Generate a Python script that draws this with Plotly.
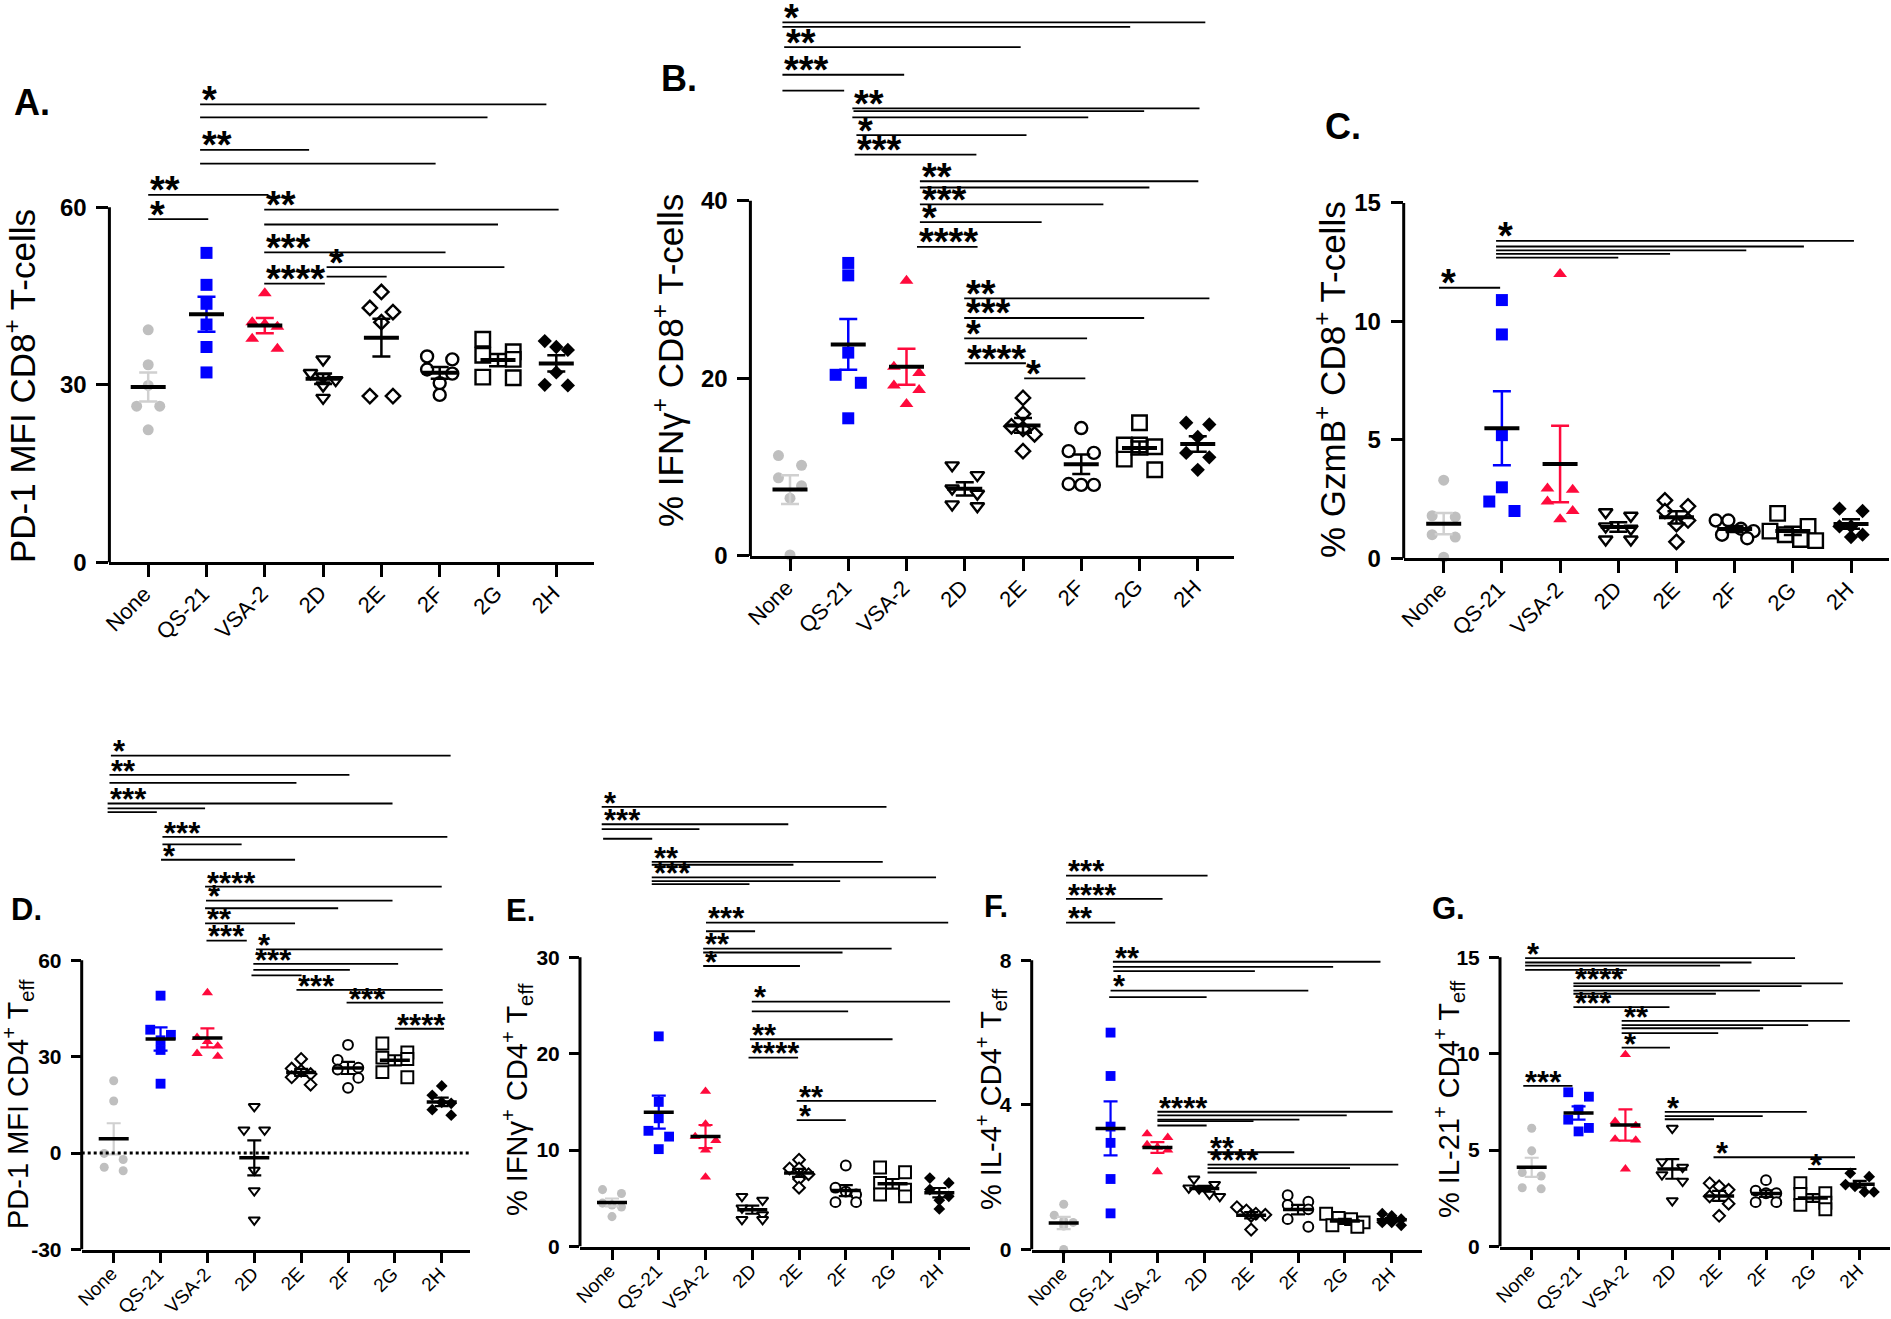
import numpy as np
import plotly.graph_objects as go

W, H = 1891, 1319
FONT = "Liberation Sans, Arial, sans-serif"

groups = ["None", "QS-21", "VSA-2", "2D", "2E", "2F", "2G", "2H"]

# ---------------- values (6 animals per group) ----------------
A_vals = [[39.3, 33.4, 29.9, 26.4, 26.4, 22.4],
          [52.3, 46.9, 43.7, 40.2, 36.4, 32.1],
          [45.5, 40.6, 40.3, 39.8, 37.8, 36.1],
          [34.3, 32.0, 31.3, 30.8, 29.9, 27.8],
          [45.7, 43.0, 42.3, 40.6, 28.1, 28.1],
          [34.8, 34.3, 32.6, 31.9, 30.3, 28.3],
          [37.7, 35.6, 35.0, 34.3, 31.3, 31.2],
          [37.4, 36.4, 35.9, 32.1, 30.0, 29.9]]
B_vals = [[11.3, 10.2, 8.8, 7.9, 6.5, 0.1],
          [33.0, 31.6, 22.9, 20.4, 19.5, 15.5],
          [31.0, 21.3, 20.6, 19.2, 18.7, 17.1],
          [10.2, 9.1, 7.6, 7.0, 5.8, 5.6],
          [17.8, 16.0, 14.6, 14.3, 13.7, 11.8],
          [14.4, 11.8, 11.6, 8.1, 8.0, 8.0],
          [15.0, 12.5, 12.5, 12.3, 10.9, 9.7],
          [15.0, 14.8, 13.4, 11.6, 11.1, 9.7]]
C_vals = [[3.3, 1.8, 1.75, 1.0, 0.9, 0.05],
          [10.9, 9.45, 5.2, 3.0, 2.4, 2.0],
          [12.0, 2.95, 2.9, 2.4, 2.0, 1.65],
          [1.95, 1.8, 1.35, 1.25, 0.8, 0.8],
          [2.45, 2.2, 2.0, 1.6, 1.45, 0.7],
          [1.6, 1.6, 1.25, 1.15, 1.0, 0.85],
          [1.9, 1.35, 1.15, 1.0, 0.8, 0.75],
          [2.1, 2.0, 1.35, 1.35, 1.0, 0.9]]
D_vals = [[22.5, 16.2, -0.1, -2.0, -4.4, -5.5],
          [49.0, 38.4, 36.8, 35.1, 32.1, 21.6],
          [49.9, 36.0, 34.7, 33.3, 31.0, 30.1],
          [14.5, 7.2, 7.2, -5.3, -11.7, -20.8],
          [29.3, 26.3, 25.6, 24.6, 23.6, 21.3],
          [33.7, 29.0, 26.6, 26.0, 23.4, 20.3],
          [34.1, 31.3, 29.7, 29.3, 25.2, 23.6],
          [20.9, 18.0, 15.8, 15.5, 13.5, 11.8]]
E_vals = [[5.9, 5.5, 4.5, 4.3, 4.1, 3.1],
          [21.8, 15.0, 13.3, 12.0, 11.4, 10.1],
          [16.1, 12.7, 11.4, 11.0, 10.0, 7.2],
          [5.2, 4.8, 4.0, 3.3, 2.8, 2.8],
          [9.0, 8.1, 8.1, 7.5, 7.0, 6.1],
          [8.4, 6.1, 5.7, 5.4, 4.6, 4.6],
          [8.2, 7.7, 6.6, 5.9, 5.4, 5.2],
          [7.1, 6.6, 5.9, 5.2, 4.8, 3.9]]
F_vals = [[1.25, 0.95, 0.8, 0.75, 0.65, 0.0],
          [6.0, 4.8, 3.4, 2.95, 1.95, 1.0],
          [3.2, 3.1, 2.9, 2.83, 2.75, 2.15],
          [1.95, 1.8, 1.7, 1.68, 1.53, 1.47],
          [1.17, 1.08, 0.99, 0.96, 0.93, 0.55],
          [1.5, 1.32, 1.23, 1.11, 0.84, 0.63],
          [0.99, 0.87, 0.84, 0.75, 0.67, 0.63],
          [0.99, 0.93, 0.84, 0.75, 0.75, 0.67]]
G_vals = [[6.13, 4.96, 3.84, 3.66, 3.05, 2.99],
          [8.0, 7.77, 7.1, 6.58, 6.15, 5.97],
          [9.95, 6.49, 6.27, 5.57, 5.52, 4.02],
          [6.13, 4.4, 4.11, 3.73, 3.39, 2.38],
          [3.28, 3.12, 2.94, 2.6, 2.22, 1.59],
          [3.44, 2.9, 2.76, 2.76, 2.3, 2.3],
          [3.28, 2.76, 2.72, 2.27, 2.16, 1.93],
          [3.8, 3.62, 3.21, 3.12, 2.83, 2.83]]

# ---------------- significance brackets: (from group, to group, level, stars) ----------------
A_sig = [(0.89, 6.83, 77.4, "*"), (0.89, 5.82, 75.2, ""), (0.89, 2.76, 69.7, "**"),
         (0.89, 4.93, 67.4, ""), (0.0, 2.06, 62.1, "**"), (0.0, 1.03, 58.0, "*"),
         (1.99, 7.04, 59.6, "**"), (1.99, 6.0, 57.1, ""), (1.99, 5.1, 52.4, "***"),
         (3.06, 6.11, 49.9, "*"), (3.06, 4.09, 48.3, ""), (1.99, 3.03, 47.1, "****")]
B_sig = [(-0.13, 7.13, 60.1, "*"), (-0.13, 5.84, 59.6, ""), (-0.10, 3.96, 57.3, "**"),
         (-0.13, 1.96, 54.2, "***"), (-0.13, 0.93, 52.4, ""),
         (1.07, 7.03, 50.4, "**"), (1.09, 6.08, 50.1, ""), (1.07, 5.12, 49.4, ""),
         (1.14, 4.06, 47.4, "*"), (1.11, 3.20, 45.2, "***"),
         (2.23, 7.01, 42.2, "**"), (2.23, 6.17, 41.5, ""), (2.23, 5.38, 39.6, "***"),
         (2.23, 4.32, 37.6, "*"), (2.18, 3.22, 34.8, "****"),
         (2.99, 7.20, 29.0, "**"), (2.99, 6.08, 26.8, "***"), (2.99, 5.10, 24.5, "*"),
         (3.00, 4.05, 21.7, "****"), (4.02, 5.07, 20.0, "*")]
C_sig = [(-0.08, 0.97, 11.42, "*"), (0.90, 7.05, 13.40, "*"), (0.90, 6.19, 13.16, ""),
         (0.90, 5.20, 13.00, ""), (0.90, 3.89, 12.85, ""), (0.90, 3.00, 12.69, "")]
D_sig = [(-0.06, 7.19, 123.7, "*"), (-0.09, 5.03, 117.7, "**"), (-0.09, 3.90, 115.2, ""),
         (-0.13, 5.95, 108.8, "***"), (-0.13, 1.95, 107.3, ""), (-0.13, 0.92, 106.1, ""),
         (1.04, 7.12, 98.4, "***"), (1.04, 2.73, 96.1, ""), (1.01, 3.87, 91.3, "*"),
         (1.95, 7.00, 82.9, "****"), (1.97, 5.95, 78.6, "*"), (1.95, 4.79, 76.2, ""),
         (1.95, 3.87, 71.5, "**"), (1.98, 2.84, 66.1, "***"),
         (3.04, 7.02, 63.4, "*"), (2.98, 6.07, 58.9, "***"), (2.98, 5.04, 57.0, ""),
         (2.94, 4.01, 55.3, ""), (3.90, 7.02, 50.8, "***"), (4.97, 7.03, 46.8, "***"),
         (6.00, 7.05, 38.7, "****")]
E_sig = [(-0.22, 5.87, 45.6, "*"), (-0.22, 3.77, 43.8, "***"), (-0.22, 1.87, 43.3, ""),
         (-0.19, 0.86, 42.3, ""), (0.85, 5.79, 39.9, "**"), (0.85, 3.88, 39.6, ""),
         (0.85, 6.93, 38.3, "***"), (0.85, 4.88, 37.9, ""), (0.85, 2.94, 37.6, ""),
         (2.01, 7.19, 33.6, "***"), (2.01, 3.06, 32.7, ""), (1.95, 5.98, 30.9, "**"),
         (1.95, 4.93, 30.5, ""), (1.95, 4.02, 29.1, "*"),
         (2.99, 7.23, 25.4, "*"), (2.99, 5.05, 24.4, ""), (2.95, 6.00, 21.5, "**"),
         (2.92, 3.98, 19.6, "****"), (3.95, 6.93, 15.1, "**"), (3.95, 5.00, 13.1, "*")]
F_sig = [(0.05, 3.07, 10.34, "***"), (0.05, 2.11, 9.70, "****"), (0.05, 1.10, 9.04, "**"),
         (1.05, 6.76, 7.96, "**"), (1.05, 5.75, 7.82, ""), (1.06, 4.08, 7.70, ""),
         (1.00, 5.22, 7.16, "*"), (0.97, 3.05, 6.98, ""),
         (2.00, 7.02, 3.81, "****"), (2.00, 6.04, 3.71, ""), (2.00, 5.03, 3.59, ""),
         (2.00, 4.05, 3.55, ""), (2.00, 3.05, 3.43, ""),
         (3.07, 4.92, 2.69, "**"), (3.07, 7.14, 2.35, "****"), (3.07, 6.11, 2.25, ""),
         (3.07, 4.12, 2.13, "")]
G_sig = [(-0.18, 0.87, 8.33, "***"), (-0.14, 5.62, 14.96, "*"), (-0.14, 4.69, 14.73, ""),
         (-0.14, 4.02, 14.57, ""), (-0.14, 2.03, 14.35, ""),
         (0.89, 6.64, 13.65, "****"), (0.89, 5.76, 13.50, ""), (0.89, 4.87, 13.27, ""),
         (0.89, 3.93, 13.11, ""), (0.89, 2.94, 12.42, "***"),
         (1.92, 6.79, 11.70, "**"), (1.92, 5.90, 11.48, ""), (1.92, 4.94, 11.32, ""),
         (1.92, 3.98, 11.07, ""), (1.92, 2.95, 10.31, "*"),
         (2.84, 5.87, 6.98, "*"), (2.84, 4.93, 6.76, ""), (2.84, 3.89, 6.60, ""),
         (3.88, 6.90, 4.63, "*"), (5.90, 6.93, 4.02, "*")]

A_ticks = [0, 30, 60]
B_ticks = [0, 20, 40]
C_ticks = [0, 5, 10, 15]
D_ticks = [-30, 0, 30, 60]
E_ticks = [0, 10, 20, 30]
F_ticks = [0, 4, 8]
G_ticks = [0, 5, 10, 15]

A_title = "PD-1 MFI CD8<sup>+</sup> T-cells"
B_title = "% IFNγ<sup>+</sup> CD8<sup>+</sup> T-cells"
C_title = "% GzmB<sup>+</sup> CD8<sup>+</sup> T-cells"
D_title = "PD-1 MFI CD4<sup>+</sup> T<sub>eff</sub>"
E_title = "% IFNγ<sup>+</sup> CD4<sup>+</sup> T<sub>eff</sub>"
F_title = "% IL-4<sup>+</sup> CD4<sup>+</sup> T<sub>eff</sub>"
G_title = "% IL-21<sup>+</sup> CD4<sup>+</sup> T<sub>eff</sub>"

# ---------------- styling / layout (pixel geometry) ----------------
symbols = ["circle", "square", "triangle-up", "triangle-down", "diamond", "circle", "square", "diamond"]
fills = ["#BFBFBF", "#0000FF", "#FF0A3C", "white", "white", "white", "white", "black"]
edges = ["#BFBFBF", "#0000FF", "#FF0A3C", "black", "black", "black", "black", "black"]
sizes = [11, 12, 12, 12, 11, 12, 14.5, 11]
bar_cols = ["#D0D0D0", "#0000FF", "#FF0A3C", "black", "black", "black", "black", "black"]

panels = [
    dict(vals=A_vals, sig=A_sig, ticks=A_ticks, title=A_title, letter="A.",
         axis=109.4, cat0=148.2, step=58.3, right=593.9, bottom=562.4, ybot=0, ppu=5.918, top=0,
         big=True, title_xy=(20, 386), letter_xy=(12, 102), dotted=False),
    dict(vals=B_vals, sig=B_sig, ticks=B_ticks, title=B_title, letter="B.",
         axis=750.4, cat0=790.0, step=58.25, right=1234, bottom=555.9, ybot=0, ppu=8.8775, top=0,
         big=True, title_xy=(668, 361), letter_xy=(659, 79), dotted=False),
    dict(vals=C_vals, sig=C_sig, ticks=C_ticks, title=C_title, letter="C.",
         axis=1403.7, cat0=1443.7, step=58.19, right=1888.6, bottom=558.4, ybot=0, ppu=23.70, top=0,
         big=True, title_xy=(1330, 380), letter_xy=(1323, 126), dotted=False),
    dict(vals=D_vals, sig=D_sig, ticks=D_ticks, title=D_title, letter="D.",
         axis=81.7, cat0=113.7, step=46.86, right=470, bottom=1249.5, ybot=-30, ppu=3.2133, top=700,
         big=False, title_xy=(18, 1104), letter_xy=(9, 909), dotted=True),
    dict(vals=E_vals, sig=E_sig, ticks=E_ticks, title=E_title, letter="E.",
         axis=580, cat0=612, step=46.76, right=970, bottom=1246.5, ybot=0, ppu=9.64, top=700,
         big=False, title_xy=(517, 1100), letter_xy=(504, 910), dotted=False),
    dict(vals=F_vals, sig=F_sig, ticks=F_ticks, title=F_title, letter="F.",
         axis=1031.7, cat0=1063.7, step=46.86, right=1422, bottom=1249.5, ybot=0, ppu=36.15, top=700,
         big=False, title_xy=(991, 1099), letter_xy=(982, 906), dotted=False),
    dict(vals=G_vals, sig=G_sig, ticks=G_ticks, title=G_title, letter="G.",
         axis=1500, cat0=1531.7, step=46.86, right=1890, bottom=1246.5, ybot=0, ppu=19.28, top=700,
         big=False, title_xy=(1449, 1099), letter_xy=(1430, 908), dotted=False),
]


def swarm(vals, ppu, step_px, m):
    v = np.asarray(vals, float)
    order = np.argsort(-v, kind="stable")
    rows = []
    for i in order:
        for r in rows:
            if abs(v[r[0]] - v[i]) * ppu < 0.9 * m:
                r.append(i)
                break
        else:
            rows.append([i])
    off = np.zeros(len(v))
    for r in rows:
        n = len(r)
        pos = [-1.0, 1.0] if n == 2 else list(np.arange(n) - (n - 1) / 2)
        for k, i in enumerate(r):
            off[i] = pos[k] * 1.05 * m / step_px
    return off


fig = go.Figure()
layout = dict(width=W, height=H, margin=dict(l=0, r=0, t=0, b=0),
              paper_bgcolor="white", plot_bgcolor="rgba(0,0,0,0)", showlegend=False,
              font=dict(family=FONT, color="black"))
shapes, annotations = [], []

for pi, p in enumerate(panels):
    n = pi + 1
    xa = "x" if n == 1 else f"x{n}"
    ya = "y" if n == 1 else f"y{n}"
    sc = 1.0 if p["big"] else 0.82
    xr = [(p["axis"] - p["cat0"]) / p["step"], (p["right"] - p["cat0"]) / p["step"]]
    ytop = p["ybot"] + (p["bottom"] - p["top"]) / p["ppu"]
    tick_fs = 24 if p["big"] else 21
    cat_fs = 22 if p["big"] else 19
    tl = 12 if p["big"] else 10

    layout[("xaxis" if n == 1 else f"xaxis{n}")] = dict(
        domain=[p["axis"] / W, p["right"] / W], range=xr, anchor=ya,
        tickmode="array", tickvals=list(range(8)), showticklabels=False,
        ticks="outside", ticklen=tl, tickwidth=3, tickcolor="black",
        showline=True, linewidth=3, linecolor="black", showgrid=False, zeroline=False,
        automargin=False, fixedrange=True)
    layout[("yaxis" if n == 1 else f"yaxis{n}")] = dict(
        domain=[1 - p["bottom"] / H, 1 - p["top"] / H], range=[p["ybot"], ytop], anchor=xa,
        tickmode="array", tickvals=p["ticks"], ticktext=[str(t) for t in p["ticks"]],
        ticks="outside", ticklen=tl, tickwidth=3, tickcolor="black", ticklabelstandoff=5,
        showline=False, showgrid=False, zeroline=False,
        tickfont=dict(family=FONT, size=tick_fs, color="black", weight="bold"),
        automargin=False, fixedrange=True)

    # category labels, rotated, hanging below each tick
    lab_gap = tl + (4 if p["big"] else 1)
    for g, name in enumerate(groups):
        annotations.append(dict(x=g, xref=xa, y=1 - (p["bottom"] + lab_gap) / H, yref="paper",
                                text=name, textangle=-45, showarrow=False,
                                xanchor="right", yanchor="top", xshift=11 if p["big"] else 10,
                                font=dict(family=FONT, size=cat_fs, color="black")))

    # y axis line only up to the top tick
    shapes.append(dict(type="line", xref=f"{xa} domain", x0=0, x1=0, yref=ya,
                       y0=p["ybot"], y1=max(p["ticks"]), line=dict(color="black", width=3)))
    if p["dotted"]:
        shapes.append(dict(type="line", xref=f"{xa} domain", x0=0, x1=1, yref=ya, y0=0, y1=0,
                           line=dict(color="black", width=3, dash="dot")))

    # points
    for g, vals in enumerate(p["vals"]):
        m = sizes[g] * sc
        off = swarm(vals, p["ppu"], p["step"], m)
        fig.add_trace(go.Scatter(
            x=g + off, y=vals, mode="markers", xaxis=xa, yaxis=ya, cliponaxis=False,
            marker=dict(symbol=symbols[g], size=m, color=fills[g],
                        line=dict(color=edges[g], width=(2.4 if p["big"] else 2.0) if fills[g] == "white" else 0)),
            hoverinfo="skip"))

    # error bars (SEM) and means
    half = (17.5 if p["big"] else 15) / p["step"]
    mx, my = [], []
    for g, vals in enumerate(p["vals"]):
        v = np.asarray(vals, float)
        mean = v.mean()
        sem = v.std(ddof=1) / np.sqrt(len(v))
        fig.add_trace(go.Scatter(
            x=[g], y=[mean], mode="markers", xaxis=xa, yaxis=ya,
            marker=dict(size=2, color="rgba(0,0,0,0)"),
            error_y=dict(type="data", array=[sem], color=bar_cols[g],
                         thickness=2.5 if p["big"] else 2.2, width=9 if p["big"] else 7),
            hoverinfo="skip"))
        mx += [g - half, g + half, None]
        my += [mean, mean, None]
    fig.add_trace(go.Scatter(x=mx, y=my, mode="lines", xaxis=xa, yaxis=ya,
                             line=dict(color="black", width=4 if p["big"] else 3.5),
                             hoverinfo="skip"))

    # significance brackets
    sx, sy = [], []
    star_fs = 38 if p["big"] else 31
    for (x0, x1, yl, lab) in p["sig"]:
        sx += [x0, x1, None]
        sy += [yl, yl, None]
        if lab:
            annotations.append(dict(x=x0, y=yl, xref=xa, yref=ya, text=lab, showarrow=False,
                                    xanchor="left", yanchor="middle", yshift=0.12 * star_fs,
                                    font=dict(family=FONT, size=star_fs, color="black", weight="bold")))
    fig.add_trace(go.Scatter(x=sx, y=sy, mode="lines", xaxis=xa, yaxis=ya,
                             line=dict(color="black", width=1.8), hoverinfo="skip"))

    # y title and panel letter (paper coords from pixel layout)
    tx, ty = p["title_xy"]
    annotations.append(dict(x=tx / W, y=1 - ty / H, xref="paper", yref="paper", text=p["title"],
                            textangle=-90, showarrow=False, xanchor="center", yanchor="middle",
                            font=dict(family=FONT, size=35 if p["big"] else 29, color="black")))
    lx, ly = p["letter_xy"]
    annotations.append(dict(x=lx / W, y=1 - ly / H, xref="paper", yref="paper", text=p["letter"],
                            showarrow=False, xanchor="left", yanchor="middle",
                            font=dict(family=FONT, size=36 if p["big"] else 31, color="black", weight="bold")))

layout["shapes"] = shapes
layout["annotations"] = annotations
fig.update_layout(**layout)
fig.write_html("out.html", config={"displayModeBar": False},
               post_script="document.body.style.margin='0px';document.body.style.overflow='hidden';")
